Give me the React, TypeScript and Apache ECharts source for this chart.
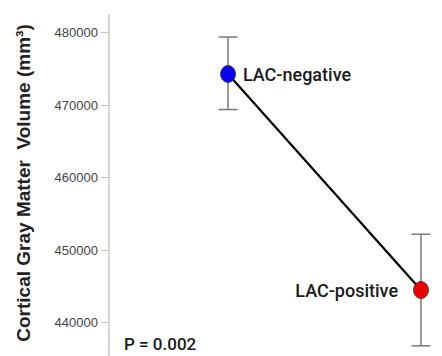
import React, { useEffect, useRef } from "react";
import * as echarts from "echarts";

const groups = ["LAC-negative", "LAC-positive"];
const groupX = [0, 1];
const means = [474300, 444500];
const errLow = [469400, 436800];
const errHigh = [479400, 452200];
const pointColors = ["#0a00f0", "#ee0000"];
const yTicks = [440000, 450000, 460000, 470000, 480000];
const pText = "P = 0.002";
const yTitle = "Cortical Gray Matter  Volume (mm³)";

export default function App() {
  const ref = useRef<HTMLDivElement>(null);
  useEffect(() => {
    document.body.style.margin = "0";
    const chart = echarts.init(ref.current!, null, { renderer: "svg" });
    const textFont = "Roboto";
    chart.setOption({
      animation: false,
      backgroundColor: "#ffffff",
      grid: { left: 109, right: 0, top: 15, bottom: 0, containLabel: false },
      xAxis: {
        type: "value",
        min: -0.617,
        max: 1.109,
        show: false,
      },
      yAxis: {
        type: "value",
        min: 435400,
        max: 482440,
        axisLine: { show: true, onZero: false, lineStyle: { color: "#c4c4c4", width: 1.5 } },
        axisTick: {
          show: true,
          length: 8,
          customValues: yTicks,
          lineStyle: { color: "#c4c4c4", width: 1 },
        },
        axisLabel: {
          customValues: yTicks,
          formatter: (v: number) => String(v),
          color: "#444",
          fontFamily: "Liberation Sans",
          fontSize: 13,
          margin: 11,
        },
        splitLine: { show: false },
        name: yTitle,
        nameLocation: "middle",
        nameGap: 76,
        nameRotate: 90,
        nameTextStyle: {
          color: "#222",
          fontFamily: "Liberation Sans",
          fontSize: 19,
          fontWeight: "bold",
          padding: [0, 0, 0, 5],
        },
      },
      series: [
        {
          type: "custom",
          renderItem: (params: any, api: any) => {
            const x = api.value(0);
            const lo = api.coord([x, api.value(1)]);
            const hi = api.coord([x, api.value(2)]);
            const hw = 9.5;
            const style = { stroke: "#7a7a7a", lineWidth: 1.5 };
            return {
              type: "group",
              children: [
                { type: "line", shape: { x1: lo[0], y1: lo[1], x2: hi[0], y2: hi[1] }, style },
                { type: "line", shape: { x1: lo[0] - hw, y1: lo[1], x2: lo[0] + hw, y2: lo[1] }, style },
                { type: "line", shape: { x1: hi[0] - hw, y1: hi[1], x2: hi[0] + hw, y2: hi[1] }, style },
              ],
            };
          },
          data: groupX.map((x, i) => [x, errLow[i], errHigh[i]]),
          z: 1,
        },
        {
          type: "line",
          data: groupX.map((x, i) => [x, means[i]]),
          showSymbol: false,
          symbol: "none",
          lineStyle: { color: "#000", width: 2.2 },
          z: 2,
        },
        {
          type: "scatter",
          symbol: "circle",
          symbolSize: [15, 17],
          data: groupX.map((x, i) => ({
            value: [x, means[i]],
            name: groups[i],
            itemStyle: { color: pointColors[i], opacity: 1, borderColor: "#333", borderWidth: 0.8 },
            label: {
              show: true,
              position: i === 0 ? "right" : "left",
              distance: i === 0 ? 7 : 15,
              formatter: groups[i],
              color: "#1a1a1a",
              fontFamily: textFont,
              fontWeight: 500,
              fontSize: 18,
            },
          })),
          z: 3,
        },
      ],
      graphic: [
        {
          type: "text",
          left: 124,
          top: 335,
          style: {
            text: pText,
            fill: "#1a1a1a",
            font: `500 17px ${textFont}`,
          },
        },
      ],
    });
    return () => chart.dispose();
  }, []);
  return <div ref={ref} style={{ width: 442, height: 356 }} />;
}
